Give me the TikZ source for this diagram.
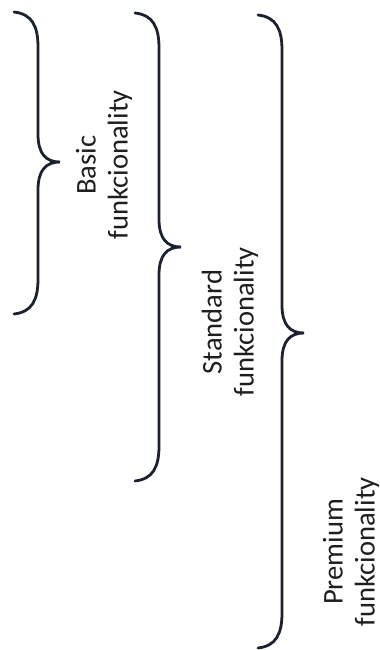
\documentclass[tikz,border=0pt]{standalone}
\usepackage{fontspec}
\setmainfont{Carlito}
\usepackage{tikz}

\definecolor{bracecol}{RGB}{28,33,48}
\definecolor{labelcol}{RGB}{30,30,30}

% brace: top end x, top end y, tip y, bottom end y
\newcommand{\funkbrace}[4]{%
	\draw[br] (#1,#2) .. controls (#1+18,#2+2) and (#1+24,#2+14) .. (#1+24,#2+35)
		-- (#1+24,#3-28) .. controls (#1+24,#3-8) and (#1+32,#3) .. (#1+46,#3)
		.. controls (#1+32,#3) and (#1+24,#3+8) .. (#1+24,#3+28)
		-- (#1+24,#4-35) .. controls (#1+24,#4-14) and (#1+18,#4-2) .. (#1,#4);
}

\begin{document}
\begin{tikzpicture}
		[x=0.5pt,y=-0.5pt,
		br/.style={draw=bracecol,line width=1.4pt,line cap=round},
		lbl/.style={rotate=90,align=center,text=labelcol,font=\fontsize{14.3}{16}\selectfont}]

		\useasboundingbox (0,0) rectangle (380,650);

		\funkbrace{14}{12}{162}{314}
		\funkbrace{135}{13}{247}{481}
		\funkbrace{258}{15}{333}{648}

		\node[lbl] (basic) at (104,165) {Basic\\funkcionality};
		\node[lbl] (standard) at (230,322) {Standard\\funkcionality};
		\node[lbl] (premium) at (351,552) {Premium\\funkcionality};
\end{tikzpicture}
\end{document}
